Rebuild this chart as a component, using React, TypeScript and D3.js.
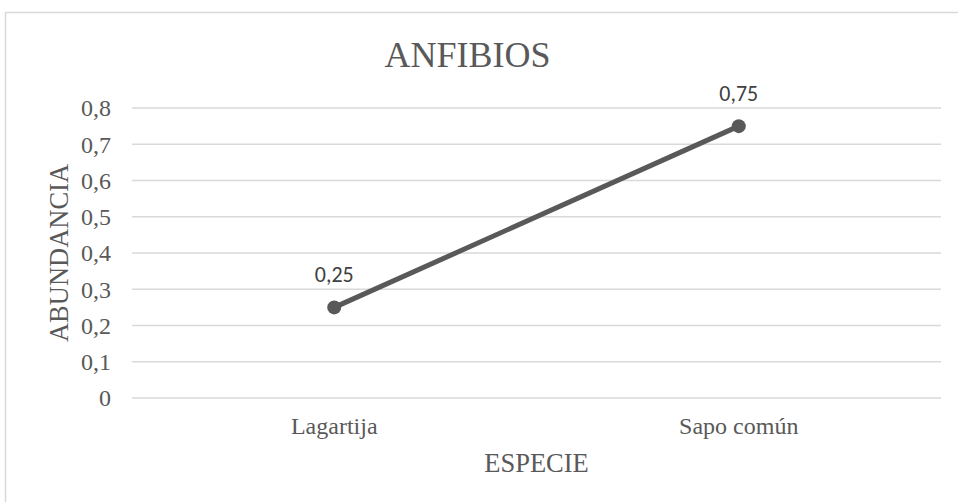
import { useEffect, useRef } from 'react'
import * as d3 from 'd3'

const CATEGORIES = ['Lagartija', 'Sapo común']
const VALUES = [0.25, 0.75]
const Y_TICKS = [0, 0.1, 0.2, 0.3, 0.4, 0.5, 0.6, 0.7, 0.8]
const TITLE = 'ANFIBIOS'
const X_TITLE = 'ESPECIE'
const Y_TITLE = 'ABUNDANCIA'

const TEXT = '#595959'
const GRID = '#d9d9d9'
const LINE = '#595959'
const SERIF = '"Liberation Serif", "Times New Roman", serif'
const SANS = 'Carlito, "Open Sans", "Liberation Sans", sans-serif'

const fmt = (v: number) => String(v).replace('.', ',')

export default function App() {
  const svgRef = useRef<SVGSVGElement>(null)

  useEffect(() => {
    if (!svgRef.current) return
    const width = 958
    const height = 502
    const svg = d3.select(svgRef.current)
    svg.selectAll('*').remove()

    // chart frame (runs off right/bottom edges)
    svg.append('rect')
      .attr('x', 5.5).attr('y', 12.5)
      .attr('width', width).attr('height', height)
      .attr('fill', '#fff').attr('stroke', GRID).attr('stroke-width', 1.5)

    const left = 132
    const right = 941
    const top = 108
    const bottom = 398

    const x = d3.scaleBand<string>().domain(CATEGORIES).range([left, right])
    const y = d3.scaleLinear().domain([0, 0.8]).range([bottom, top])

    // gridlines
    svg.append('g').selectAll('line').data(Y_TICKS).join('line')
      .attr('x1', left).attr('x2', right)
      .attr('y1', d => y(d)).attr('y2', d => y(d))
      .attr('stroke', GRID).attr('stroke-width', 1.5)

    // y tick labels
    svg.append('g').selectAll('text').data(Y_TICKS).join('text')
      .attr('x', 111).attr('y', d => y(d))
      .attr('dy', '0.35em')
      .attr('text-anchor', 'end')
      .attr('fill', TEXT)
      .attr('font-family', SERIF)
      .attr('font-size', 24)
      .text(d => fmt(d))

    // x category labels
    svg.append('g').selectAll('text').data(CATEGORIES).join('text')
      .attr('x', d => x(d)! + x.bandwidth() / 2)
      .attr('y', 434)
      .attr('text-anchor', 'middle')
      .attr('fill', TEXT)
      .attr('font-family', SERIF)
      .attr('font-size', 24)
      .text(d => d)

    // titles
    svg.append('text')
      .attr('x', (left + right) / 2 - 69).attr('y', 67)
      .attr('text-anchor', 'middle')
      .attr('fill', TEXT).attr('font-family', SERIF).attr('font-size', 36)
      .text(TITLE)

    svg.append('text')
      .attr('x', (left + right) / 2).attr('y', 472)
      .attr('text-anchor', 'middle')
      .attr('fill', TEXT).attr('font-family', SERIF).attr('font-size', 26.5)
      .text(X_TITLE)

    svg.append('text')
      .attr('transform', `translate(68, ${(top + bottom) / 2}) rotate(-90)`)
      .attr('text-anchor', 'middle')
      .attr('fill', TEXT).attr('font-family', SERIF).attr('font-size', 26.5)
      .text(Y_TITLE)

    const pts = CATEGORIES.map((c, i) => ({ c, v: VALUES[i] }))
    const cx = (d: { c: string }) => x(d.c)! + x.bandwidth() / 2

    const line = d3.line<{ c: string; v: number }>()
      .x(d => cx(d))
      .y(d => y(d.v))

    svg.append('path')
      .datum(pts)
      .attr('fill', 'none')
      .attr('stroke', LINE)
      .attr('stroke-width', 5)
      .attr('stroke-linecap', 'round')
      .attr('d', line)

    svg.append('g').selectAll('circle').data(pts).join('circle')
      .attr('cx', d => cx(d)).attr('cy', d => y(d.v))
      .attr('r', 7)
      .attr('fill', LINE)

    // data labels
    svg.append('g').selectAll('text').data(pts).join('text')
      .attr('x', d => cx(d)).attr('y', d => y(d.v) - 25)
      .attr('text-anchor', 'middle')
      .attr('fill', '#404040')
      .attr('font-family', SANS)
      .attr('font-size', 22)
      .text(d => fmt(d.v))
  }, [])

  return (
    <svg
      ref={svgRef}
      width={958}
      height={502}
      style={{ position: 'absolute', left: 0, top: 0, background: '#fff' }}
    />
  )
}
